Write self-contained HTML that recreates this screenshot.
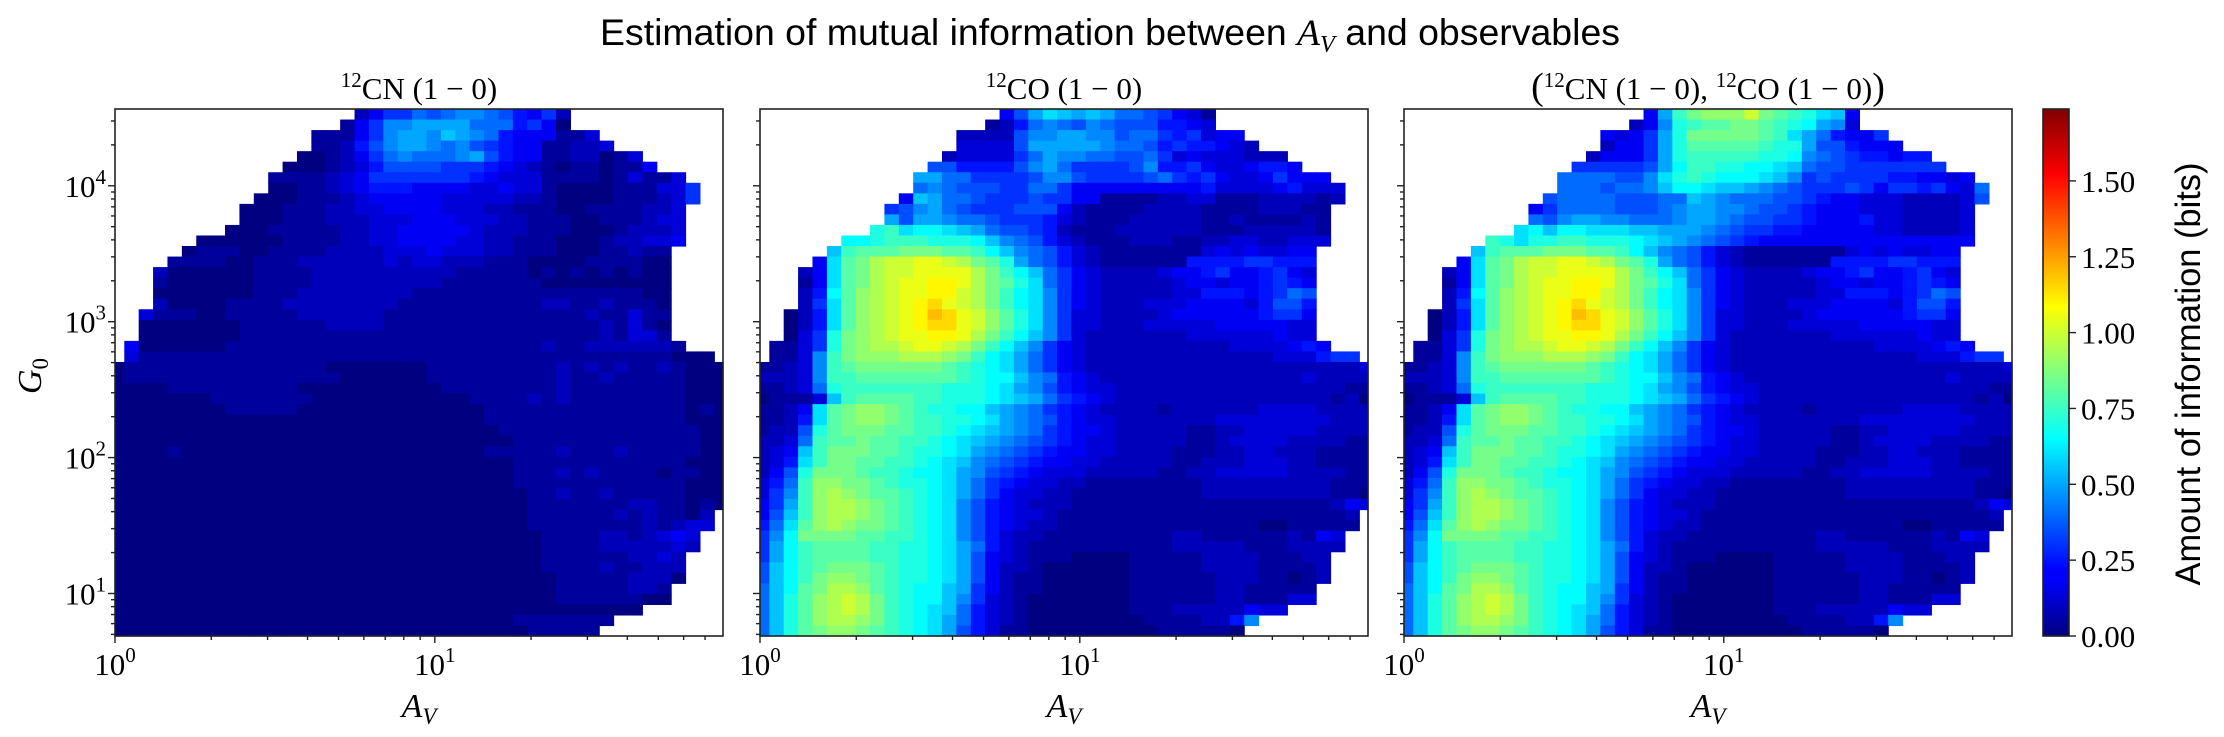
<!DOCTYPE html>
<html><head><meta charset="utf-8"><title>Mutual information</title>
<style>
html,body{margin:0;padding:0;background:#fff;}
svg{display:block;}
</style></head>
<body>
<svg id="fig" width="2224" height="737" viewBox="0 0 2224 737" xmlns="http://www.w3.org/2000/svg">
<defs>
<linearGradient id="jetgrad" x1="0" y1="1" x2="0" y2="0">
<stop offset="0" stop-color="#000080"/><stop offset="0.11" stop-color="#0000ff"/><stop offset="0.125" stop-color="#0000ff"/>
<stop offset="0.375" stop-color="#00ffff"/><stop offset="0.5" stop-color="#80ff80"/><stop offset="0.625" stop-color="#ffff00"/>
<stop offset="0.875" stop-color="#ff0000"/><stop offset="1" stop-color="#800000"/>
</linearGradient>
</defs>
<text x="1110" y="45" text-anchor="middle" font-family="Liberation Sans, sans-serif" font-size="37" textLength="1020" lengthAdjust="spacingAndGlyphs">Estimation of mutual information between <tspan font-family="Liberation Serif, serif" font-style="italic">A</tspan><tspan font-family="Liberation Serif, serif" font-style="italic" font-size="24" dy="7">V</tspan><tspan dy="-7"> and observables</tspan></text>
<g id="panels"></g>
<g id="cbar"></g>
</svg>
<script>
// ---- data: mutual information (bits), each char = value in 0.05-bit units (base 36); strings start at rowStart col
const rowStart=[17,16,14,14,13,12,11,11,10,9,9,8,6,5,4,3,3,3,3,2,2,2,1,1,0,0,0,0,0,0,0,0,0,0,0,0,0,0,0,0,0,0,0,0,0,0,0,0,0,0];
const rowEnd=[31,31,33,34,36,37,39,40,40,39,39,39,39,38,38,38,38,38,38,38,38,38,39,41,42,42,42,42,42,42,42,42,42,42,42,42,42,42,41,41,40,40,39,39,39,38,38,36,34,33];
const Z28="0000000000000000000000000000";
const cnRows=[
"246687899875462","14699aaaa8885640","111469aa9ba985444113","112579aa9897654411223",
"001246898889a75441122013","00012357777666543210110114","11112346666666543331111013113",
"001123455544443343310000111336","0001112344444333332210000111236","0001112233444433322111001111223",
"0001112223334443332211100111233","00011111223344444322211100012223","0000001111223344443322111000122334",
"0111001111222233343332211100011211","11110011122222232332221110000111100","200000011112222222222111110101010100",
"100000011112222222221111111000000000","000000011122222222111111111111111100","200001111222222221111111111221121110",
"3111001111122222211111111111111211311","0000000111111222211111111111111121310","0000000111111111111111111111111121331",
"400000011111111111111111111112112222221","31111111111111111111111111111111111111000",
"01111111111111"+"10000000111111"+"111212121121000",
"01111111111111"+"11000000111111"+"111211211111000",
"00001111111110"+"00000000011111"+"111211111111000",
"00000001111111"+"00000000000111"+"121211111111000",
"00000000111110"+"00000000000011"+"111111111111010",
"00000000000000"+"00000000000011"+"111111111111000",
"00000000000000"+"00000000000001"+"111111111111100",
"00000000000000"+"00000000000000"+"111111111111100",
"00001000000000"+"00000000000011"+"111211121111100",
"00000000000000"+"00000000000000"+"111111111111000",
"00000000000000"+"00000000000000"+"111212111101100",
"00000000000000"+"00000000000000"+"111111111111000",
"00000000000000"+"00000000000000"+"011211211111000",
"00000000000000"+"00000000000000"+"011111112211010",
Z28+"01111112121102",Z28+"01111111121233",Z28+"0011112212343",Z28+"0011112222232",
Z28+"001111112232",Z28+"001111211222",Z28+"000111112220",Z28+"00011111221",
Z28+"00011111100",Z28+"000000000",Z28+"1111111",Z28+"011111"
];
const coRows=[
"47acbaba8876431","1258987987775543","2222799aa99788656344","33337aaaaa98875655432",
"2333368a9988778634333222","77555579a86666795564334554","aa886666799766667865643346444",
"898777668864444444445333345333","4ba8876667664411112233111222212","679a876667774211112222111122211",
"a7aa988766653211122222112111121","efcddcba877652111222222111222221","ddefffeeedb98753211122211223322333",
"bfggghhhggfdb987532111111134343344","4cghjkkllkjhgea87532111111555566555","24cghjkklllljhfdb8643222234456445643",
"14cghjkllmmljhgec8643222223443445654","25dgijkllmmkjhfdc9643222223355545687","26cgijklmnlkjhfdc964322233344443577 5",
"025cgijklmonlkigec9633222234444445664","025cgijklmnnlkigec9633222333334444433","036ehijkllmmljhfdb9632222222333333433",
"1136ehijjkllkjhfdb964322222222223333454","1139fhiiijjjihfdca86432222222222222333566",
"11239fghhhhhhgfedca8643222222222222222222232","22239ffgggggggfeddb98543222222222222223222222",
"11238efffffffeeedca9754332222222222222222111","01113bfggggffeeedcba8654322222222222222212",
"1124cghiihgfeeddba9865432222122222233332222","1125cghiihgffeedca9875433222222233333333222",
"1227eghhhggffedcba9865443222221122333332222","2238fgghggffedcba98765433222221123333222211",
"234bfhhhggfeedca987654433222211122332221111","235cfhhggffedcb9876544332222211222333221111",
"247ehhhgffeddca9765433322222112233333222211","358fiihhgfeedca8654332211111111222222222111",
"369fijihggfedca8643322111111111222222222110","46afijjihgfedc97543222111111111111111111243",
"47bfijjihgfedc9754332111111111111111111112","58cgijihhgfedc97543221111111111111100111112",
"69dhhhhggffedc975322111111111221111112143","6adfggggffeedca85321111111111222221112222",
"6adfggggffeedca7432111000011111222211122","7bdfghhhgfeedca7422100000011111222211112",
"7bdfhiihgfeedca7421100000011111122211012","8bdghjjigfeddba642110000001111112211111",
"8begijkjhfeddb9632100000001111112211133","8begijkjhfedcb85321000000011122222433",
"8begijjihfedca853210000000011112259","8beghiihgfedca7531100000000011111"
];
const jointTop=[
"4afhiiikhgfecb4","249efgghhgfeda93","4346aehhhhhgfca85446","2446aegggggfeea775444",
"24446aefffffeed987655455","666667adffeeddcb8776666666","8888779cefedddcb9676666554434",
"8887889bddcbba9876667646656438","7888877788ba9888776544333222237","46888877789aa998776544433322223",
"879aa998889aa987766544453322223","cdbddcccbbaaa9876655444443322223","feceeffeeedcba98765444444444444444"
];
const jointRows=jointTop.concat(coRows.slice(13));
const panelTitles=["cn","co","joint"];
const xMajorTicks=[0,1];
const yMajorTicks=[1,2,3,4];
const cbarTicks=[0,0.25,0.5,0.75,1.0,1.25,1.5];
const cbarTickLabels=["0.00","0.25","0.50","0.75","1.00","1.25","1.50"];
const vmax=1.737;

// ---- geometry
const NS="http://www.w3.org/2000/svg";
const panelLeft=[115,760,1404], PW=608, TOP=109, BOT=636;
const decX=319.8, decY=135.9, logYTop=4.565, logXMax=PW/decX;
const logX0=9.3/decX, dLogX=14.39/decX, dLogY=(BOT-TOP)/decY/50;
function xPix(p,lg){return panelLeft[p]+lg*decX;}
function yPix(lg){return TOP+(logYTop-lg)*decY;}
function cl(v){return Math.max(0,Math.min(1,v));}
function jet(f){f=cl(f);const r=cl(1.5-Math.abs(4*f-3)),g=cl(1.5-Math.abs(4*f-2)),b=cl(1.5-Math.abs(4*f-1));
 return `rgb(${Math.round(r*255)},${Math.round(g*255)},${Math.round(b*255)})`;}
function mk(tag,attrs,parent){const e=document.createElementNS(NS,tag);for(const k in attrs)e.setAttribute(k,attrs[k]);parent.appendChild(e);return e;}

const root=document.getElementById('panels');
const datasets=[cnRows,coRows,jointRows];
for(let p=0;p<3;p++){
 const g=mk('g',{},root);
 
 
 const rows=datasets[p];
 for(let r=0;r<50;r++){
  const s=rows[r].replace(/ /g,'');
  const ya=yPix(logYTop-r*dLogY), yb=yPix(logYTop-(r+1)*dLogY);
  for(let c=rowStart[r];c<=rowEnd[r];c++){
   const ch=s[c-rowStart[r]]||'0';
   const v=parseInt(ch,36)*0.05;
   let xa=xPix(p,logX0+(c-1)*dLogX), xb=xPix(p,logX0+c*dLogX);
   xa=Math.max(xa,panelLeft[p]); xb=Math.min(xb,panelLeft[p]+PW);
   const rc=mk('rect',{x:xa.toFixed(2),y:ya.toFixed(2),width:(xb-xa+0.6).toFixed(2),height:(yb-ya+0.6).toFixed(2),fill:jet(v/vmax)},g);
   
   
  }
 }
 const L=panelLeft[p];
 const fr=mk('rect',{x:L,y:TOP,width:PW,height:BOT-TOP,fill:'none',stroke:'#222','stroke-width':1.6},g);
 
 
 // x ticks
 for(let d=0;d<2;d++)for(let k=1;k<10;k++){
  const lg=d+Math.log10(k); if(lg>logXMax+1e-6)continue;
  const x=xPix(p,lg), len=(k===1)?7:4;
  const t=mk('line',{x1:x,x2:x,y1:BOT,y2:BOT+len,stroke:'#222','stroke-width':1.4},g);
  
  
 }
 xMajorTicks.forEach(e=>{
  const t=mk('text',{x:xPix(p,e),y:675,'text-anchor':'middle','font-family':'Liberation Serif, serif','font-size':31},g);
  t.innerHTML='10<tspan font-size="21" dy="-13">'+e+'</tspan>';
  
  
 });
 // y ticks
 for(let d=0;d<5;d++)for(let k=1;k<10;k++){
  const lg=d+Math.log10(k); if(lg<0.688||lg>logYTop)continue;
  const y=yPix(lg), len=(k===1)?7:4;
  const t=mk('line',{x1:L,x2:L-len,y1:y,y2:y,stroke:'#222','stroke-width':1.4},g);
  
  
 }
 if(p===0){
  yMajorTicks.forEach(e=>{
   const t=mk('text',{x:106,y:yPix(e)+11,'text-anchor':'end','font-family':'Liberation Serif, serif','font-size':31},g);
   t.innerHTML='10<tspan font-size="21" dy="-13">'+e+'</tspan>';
   
   
  });
  const yl=mk('text',{x:0,y:0,transform:'translate(41,376) rotate(-90)','text-anchor':'middle','font-family':'Liberation Serif, serif','font-size':34,'font-style':'italic'},g);
  yl.innerHTML='G<tspan font-size="23" dy="7" font-style="normal">0</tspan>';
  
  
 }
 const xl=mk('text',{x:L+PW/2,y:717,'text-anchor':'middle','font-family':'Liberation Serif, serif','font-size':34,'font-style':'italic'},g);
 xl.innerHTML='A<tspan font-size="23" dy="7">V</tspan>';
 
 
 const tt=mk('text',{x:L+PW/2,y:99,'text-anchor':'middle','font-family':'Liberation Serif, serif','font-size':31},g);
 const cn='<tspan font-size="21" dy="-12">12</tspan><tspan dy="12">CN (1 − 0)</tspan>';
 const co='<tspan font-size="21" dy="-12">12</tspan><tspan dy="12">CO (1 − 0)</tspan>';
 tt.innerHTML= p===0?cn : p===1?co : '<tspan font-size="38">(</tspan>'+cn+'<tspan>, </tspan>'+co+'<tspan font-size="38">)</tspan>';
 
 
}
// colorbar
const cb=document.getElementById('cbar');
const CX=2043, CW=26;
const cr=mk('rect',{x:CX,y:TOP,width:CW,height:BOT-TOP,fill:'url(#jetgrad)',stroke:'#222','stroke-width':1.6},cb);


cbarTicks.forEach((v,i)=>{
 const y=BOT-(v/vmax)*(BOT-TOP);
 const t=mk('line',{x1:CX+CW,x2:CX+CW+7,y1:y,y2:y,stroke:'#222','stroke-width':1.4},cb);
 
 
 const tl=mk('text',{x:CX+CW+12,y:y+11,'font-family':'Liberation Serif, serif','font-size':31},cb);
 tl.textContent=cbarTickLabels[i];
 
 
});
const cl2=mk('text',{x:0,y:0,transform:'translate(2200,374) rotate(-90)','text-anchor':'middle','font-family':'Liberation Sans, sans-serif','font-size':35,textLength:423,lengthAdjust:'spacingAndGlyphs'},cb);
cl2.textContent='Amount of information (bits)';


</script>
</body></html>
